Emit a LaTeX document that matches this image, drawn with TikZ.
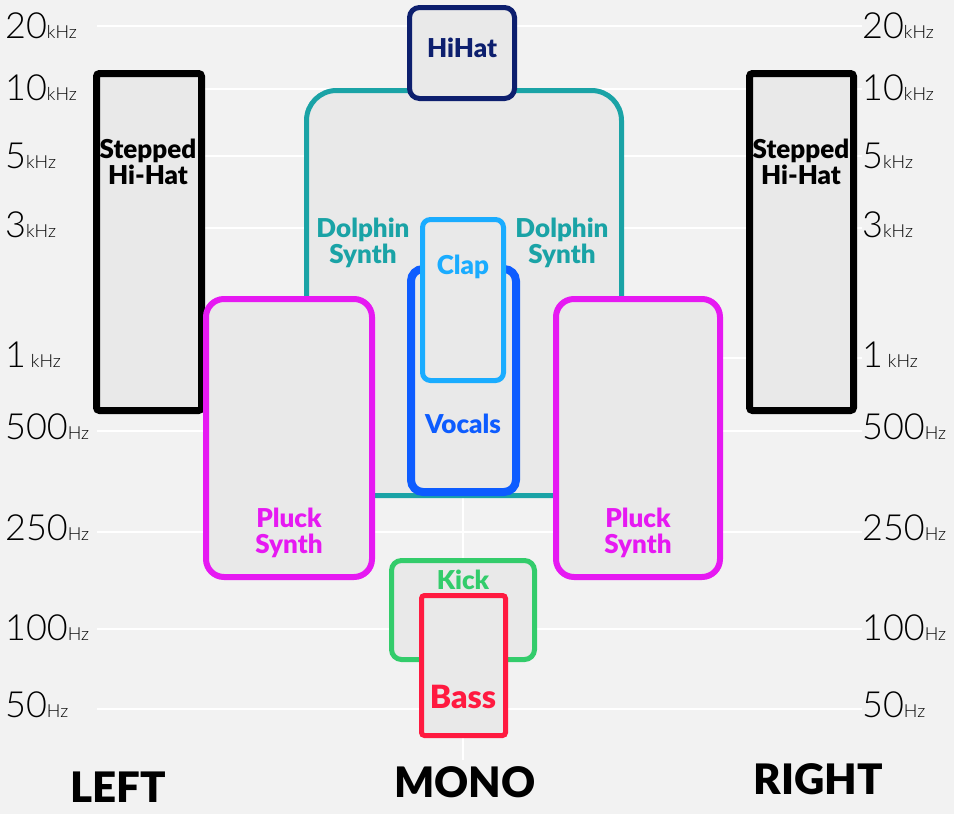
\documentclass[tikz,border=0pt]{standalone}
\usepackage{fontspec}
\setmainfont{Lato}
\newfontfamily\heavyfont{Lato Black}
\newfontfamily\lightfont{Lato Light}
\usepackage{tikz}
\usetikzlibrary{positioning,shadows}
\definecolor{bgcol}{HTML}{F2F2F2}
\definecolor{boxfill}{HTML}{E9E9E9}
\definecolor{hihatcol}{HTML}{0D1F6E}
\definecolor{dolphincol}{HTML}{1AA3A6}
\definecolor{clapcol}{HTML}{1AACFF}
\definecolor{vocalcol}{HTML}{0D5CFF}
\definecolor{pluckcol}{HTML}{E619F2}
\definecolor{kickcol}{HTML}{33CC6B}
\definecolor{basscol}{HTML}{FF1A40}
\tikzset{
  gridline/.style={
    draw=white,
    line width=2.5pt
  },
  panbox/.style={
    draw=#1,
    fill=boxfill,
    line width=5pt,
    inner sep=0pt,
    drop shadow={shadow xshift=1.5pt, shadow yshift=-1.5pt, opacity=0.35}
  },
  tag/.style={
    text=#1,
    align=center,
    inner sep=0pt,
    font=\heavyfont\fontsize{26}{26}\selectfont
  },
  axislabel/.style={
    anchor=west,
    inner sep=0pt
  },
  sidelabel/.style={
    inner sep=0pt,
    font=\heavyfont\fontsize{42}{44}\selectfont
  }
}
\newcommand{\freq}[2]{{\lightfont\fontsize{36}{36}\selectfont #1}{\lightfont\fontsize{18}{18}\selectfont #2}}

\begin{document}
\begin{tikzpicture}[x=1pt,y=-1pt]
    \fill[bgcol] (0,0) rectangle (954,814);
    \useasboundingbox (0,0) rectangle (954,814);
    % grid
    \draw[gridline] (97,26) -- (862,26);
    \draw[gridline] (97,89) -- (862,89);
    \draw[gridline] (97,156) -- (862,156);
    \draw[gridline] (97,228) -- (862,228);
    \draw[gridline] (97,358) -- (862,358);
    \draw[gridline] (97,431) -- (862,431);
    \draw[gridline] (97,532) -- (862,532);
    \draw[gridline] (97,629) -- (862,629);
    \draw[gridline] (97,709) -- (862,709);
    \draw[gridline, line width=1.5pt] (463,26) -- (463,760);
    % frequency axis
    \node[axislabel] (l20k) at (5,26) {\freq{20}{kHz}};
    \node[axislabel] (l10k) at (5,88) {\freq{10}{kHz}};
    \node[axislabel] (l5k) at (5,156) {\freq{5}{kHz}};
    \node[axislabel] (l3k) at (5,225) {\freq{3}{kHz}};
    \node[axislabel] (l1k) at (5,355) {\freq{1}{ kHz}};
    \node[axislabel] (l500) at (5,427) {\freq{500}{Hz}};
    \node[axislabel] (l250) at (5,528) {\freq{250}{Hz}};
    \node[axislabel] (l100) at (5,628) {\freq{100}{Hz}};
    \node[axislabel] (l50) at (5,705) {\freq{50}{Hz}};
    \node[axislabel] (r20k) at (862,26) {\freq{20}{kHz}};
    \node[axislabel] (r10k) at (862,88) {\freq{10}{kHz}};
    \node[axislabel] (r5k) at (862,156) {\freq{5}{kHz}};
    \node[axislabel] (r3k) at (862,225) {\freq{3}{kHz}};
    \node[axislabel] (r1k) at (862,355) {\freq{1}{ kHz}};
    \node[axislabel] (r500) at (862,427) {\freq{500}{Hz}};
    \node[axislabel] (r250) at (862,528) {\freq{250}{Hz}};
    \node[axislabel] (r100) at (862,628) {\freq{100}{Hz}};
    \node[axislabel] (r50) at (862,705) {\freq{50}{Hz}};
    % instruments
    \node[panbox=black, line width=7pt, rounded corners=3pt, minimum width=105pt, minimum height=337pt] (stepL) at (149,242) {};
    \node[panbox=black, line width=7pt, rounded corners=3pt, minimum width=104pt, minimum height=337pt] (stepR) at (801.5,242) {};
    \node[panbox=dolphincol, rounded corners=30pt, minimum width=315pt, minimum height=405pt] (dolphin) at (464,293) {};
    \node[panbox=hihatcol, rounded corners=10pt, minimum width=105pt, minimum height=91pt] (hihat) at (462,53) {};
    \node[panbox=pluckcol, line width=6pt, rounded corners=18pt, minimum width=166pt, minimum height=278pt] (pluckL) at (289,438) {};
    \node[panbox=pluckcol, line width=6pt, rounded corners=18pt, minimum width=164pt, minimum height=278pt] (pluckR) at (638,438) {};
    \node[panbox=vocalcol, line width=8pt, rounded corners=12pt, minimum width=105pt, minimum height=223pt] (vocals) at (463.5,380.5) {};
    \node[panbox=clapcol, rounded corners=8pt, minimum width=81pt, minimum height=161pt] (clap) at (463,300) {};
    \node[panbox=kickcol, rounded corners=10pt, minimum width=143pt, minimum height=99pt] (kick) at (463,610) {};
    \node[panbox=basscol, rounded corners=3pt, minimum width=84pt, minimum height=140pt] (bass) at (463.5,665.5) {};
    % labels
    \node[tag=black] (stepLtxt) at (148,162) {Stepped\\Hi-Hat};
    \node[tag=black] (stepRtxt) at (801,162) {Stepped\\Hi-Hat};
    \node[tag=hihatcol] (hihattxt) at (462,48) {HiHat};
    \node[tag=dolphincol] (dolphinLtxt) at (363,243) {Dolphin\\Synth};
    \node[tag=dolphincol] (dolphinRtxt) at (562,243) {Dolphin\\Synth};
    \node[tag=clapcol] (claptxt) at (463,267) {Clap};
    \node[tag=vocalcol] (vocaltxt) at (463,424) {Vocals};
    \node[tag=pluckcol] (pluckLtxt) at (289,533) {Pluck\\Synth};
    \node[tag=pluckcol] (pluckRtxt) at (638,533) {Pluck\\Synth};
    \node[tag=kickcol] (kicktxt) at (463,580) {Kick};
    \node[tag=basscol, font=\heavyfont\fontsize{32}{32}\selectfont] (basstxt) at (463,697) {Bass};
    \node[sidelabel] (left) at (118,787) {LEFT};
    \node[sidelabel] (mono) at (465,782) {MONO};
    \node[sidelabel] (right) at (818,779) {RIGHT};
\end{tikzpicture}
\end{document}
